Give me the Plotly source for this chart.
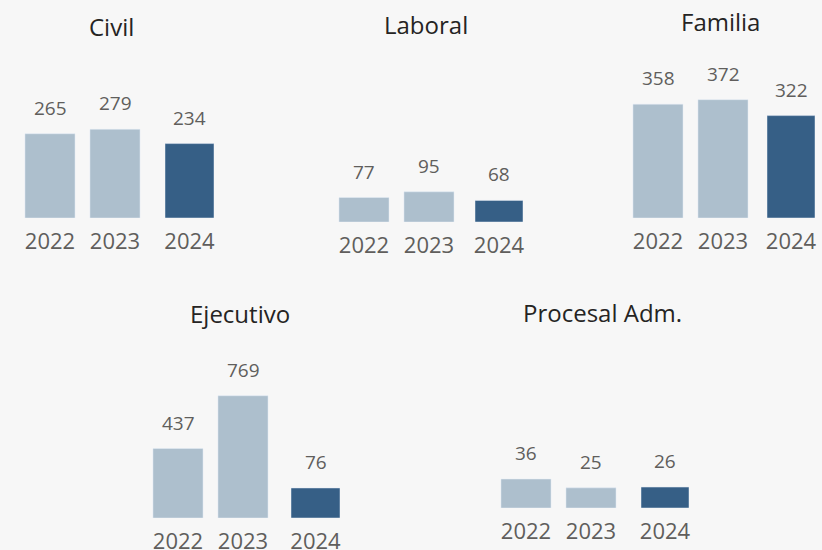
import plotly.graph_objects as go

W, H = 822, 550

# ---- data ----
years = ["2022", "2023", "2024"]
panels = ["Civil", "Laboral", "Familia", "Ejecutivo", "Procesal Adm."]
v2022 = [265, 77, 358, 437, 36]
v2023 = [279, 95, 372, 769, 25]
v2024 = [234, 68, 322, 76, 26]

# ---- style ----
LIGHT = "#adbfcd"
DARK = "#365f86"
BG = "#f7f7f7"
TXT = "#605e5c"
TITLE = "#252423"
FONT = "Open Sans, Noto Sans, sans-serif"

# panel geometry in pixels (layout only)
geo = [
    dict(left=(17.5, 147.5), right=(165, 214), base=218, top=50, sl=0.318, sr=0.318, title=(111.5, 27)),
    dict(left=(331.5, 461.5), right=(475, 523), base=222, top=50, sl=0.318, sr=0.318, title=(425.5, 25)),
    dict(left=(625.5, 755.5), right=(767, 815), base=218, top=50, sl=0.318, sr=0.318, title=(720, 21)),
    dict(left=(145.5, 275.5), right=(291, 340), base=518, top=340, sl=0.159, sr=0.395, title=(240, 313)),
    dict(left=(493.5, 623.5), right=(641, 689), base=508, top=340, sl=0.805, sr=0.805, title=(602.5, 312)),
]

fig = go.Figure()
layout = dict(
    width=W, height=H,
    margin=dict(l=0, r=0, t=0, b=0, pad=0, autoexpand=False),
    paper_bgcolor=BG, plot_bgcolor=BG,
    showlegend=False,
    font=dict(family=FONT, color=TXT),
)
annotations = []


def axis_pair(n, xdom, base, top, scale, cats):
    layout[f"xaxis{n}"] = dict(
        domain=[xdom[0] / W, xdom[1] / W], anchor=f"y{n}", type="category",
        categoryarray=cats, categoryorder="array",
        range=[-0.5, len(cats) - 0.5], automargin=False,
        showgrid=False, zeroline=False, showline=False, ticks="",
        ticklabelstandoff=8,
        tickfont=dict(size=22, color=TXT, family=FONT), fixedrange=True,
    )
    layout[f"yaxis{n}"] = dict(
        domain=[1 - base / H, 1 - top / H], anchor=f"x{n}", automargin=False,
        range=[0, (base - top) / scale], visible=False, fixedrange=True,
    )


for i, name in enumerate(panels):
    g = geo[i]
    nl, nr = 2 * i + 1, 2 * i + 2
    axis_pair(nl, g["left"], g["base"], g["top"], g["sl"], years[:2])
    axis_pair(nr, g["right"], g["base"], g["top"], g["sr"], years[2:])
    yl = [v2022[i], v2023[i]]
    yr = [v2024[i]]
    fig.add_trace(go.Bar(x=years[:2], y=yl, marker_color=LIGHT, width=0.77,
                         xaxis=f"x{nl}", yaxis=f"y{nl}", hoverinfo="x+y"))
    fig.add_trace(go.Bar(x=years[2:], y=yr, marker_color=DARK, width=1.0,
                         xaxis=f"x{nr}", yaxis=f"y{nr}", hoverinfo="x+y"))
    for ys, n in ((yl, nl), (yr, nr)):
        ref = "x" if n == 1 else f"x{n}"
        yref = "y" if n == 1 else f"y{n}"
        for j, y in enumerate(ys):
            annotations.append(dict(
                x=j, y=y, xref=ref, yref=yref, text=str(y), showarrow=False,
                yanchor="middle", yshift=26, font=dict(size=19, color=TXT, family=FONT),
            ))
    annotations.append(dict(
        x=g["title"][0] / W, y=1 - g["title"][1] / H, xref="paper", yref="paper",
        text=name, showarrow=False, xanchor="center", yanchor="middle",
        font=dict(size=24, color=TITLE, family=FONT),
    ))

layout["annotations"] = annotations
fig.update_layout(**layout)
fig.write_html("out.html", config={"displayModeBar": False},
               post_script="document.body.style.margin='0';document.body.style.overflow='hidden';")
